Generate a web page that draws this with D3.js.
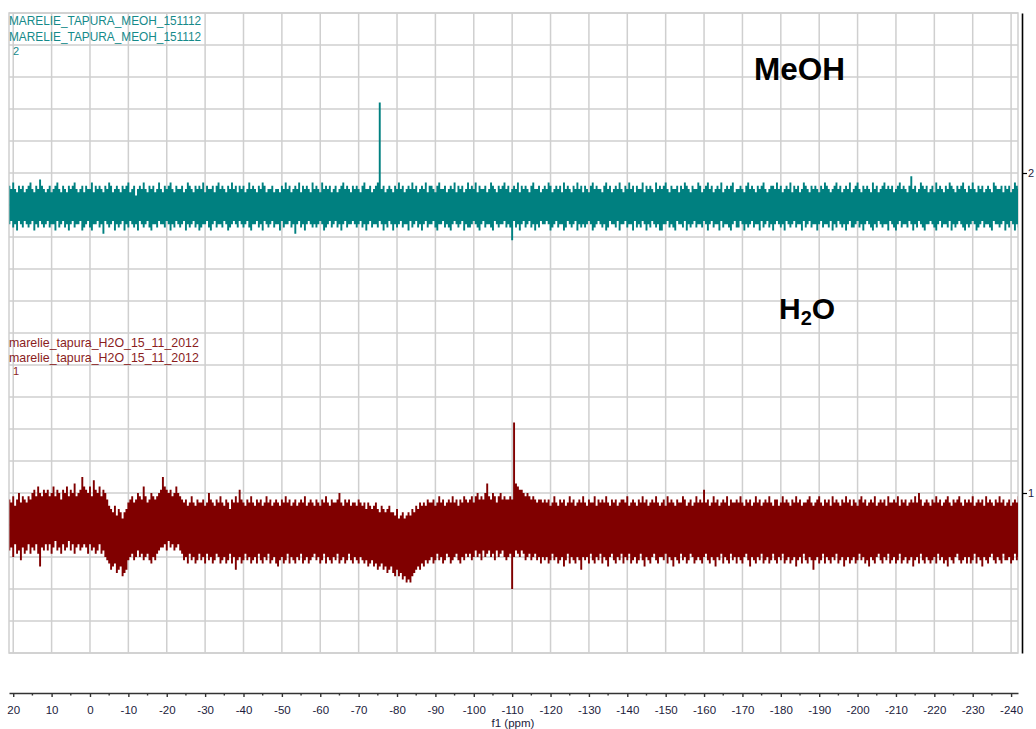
<!DOCTYPE html>
<html>
<head>
<meta charset="utf-8">
<script src="https://cdn.jsdelivr.net/npm/d3@7"></script>
<style>
  html, body { margin: 0; padding: 0; background: #ffffff; overflow: hidden; }
  svg { display: block; font-family: "Liberation Sans", Arial, sans-serif; }
</style>
</head>
<body>
<script>
// ---------------- DATA ----------------
// min/max envelope of each spectrum, one bin every 0.5 ppm starting at 21 ppm
const ppmStart = 21;
const ppmStep = 0.5;

const spectrumNames = ["MeOH", "H2O"];
const spectrumOffsets = [2, 1];      // stacked positions (right axis)
const yTickValues = [1, 2];
const yTickLabels = ["1", "2"];

const xTickValues = d3.range(20, -241, -10);
const xMinorTicks = d3.range(25, -246, -10);

// MeOH (spectrum 2) — per-bin maximum
const meohHigh = [
-.04,-.05,-.03,-.05,-.06,-.04,-.05,-.04,-.06,-.05,-.04,-.03,-.05,-.06,-.04,-.05,-.02,-.04,-.05,-.06,
-.05,-.04,-.06,-.05,-.04,-.03,-.05,-.06,-.04,-.05,-.06,-.04,-.05,-.04,-.03,-.05,-.06,-.05,-.04,-.06,
-.04,-.05,-.05,-.03,-.06,-.04,-.05,-.04,-.05,-.06,-.04,-.05,-.03,-.04,-.06,-.05,-.04,-.05,-.06,-.04,
-.05,-.04,-.03,-.06,-.05,-.04,-.07,-.05,-.04,-.05,-.03,-.05,-.06,-.04,-.05,-.04,-.06,-.05,-.03,-.05,
-.06,-.04,-.05,-.04,-.03,-.05,-.06,-.04,-.05,-.05,-.04,-.06,-.05,-.03,-.04,-.05,-.06,-.04,-.05,-.04,
-.05,-.03,-.06,-.04,-.05,-.05,-.04,-.06,-.04,-.03,-.05,-.04,-.05,-.06,-.04,-.05,-.03,-.05,-.04,-.06,
-.04,-.05,-.04,-.06,-.05,-.03,-.05,-.04,-.05,-.06,-.04,-.05,-.03,-.04,-.06,-.05,-.05,-.04,-.06,-.05,
-.05,-.06,-.04,-.05,-.03,-.05,-.04,-.06,-.05,-.04,-.05,-.03,-.06,-.04,-.05,-.04,-.05,-.06,-.03,-.05,
-.04,-.05,-.06,-.03,-.05,-.04,-.05,-.04,-.06,-.05,-.04,-.06,-.05,-.04,-.03,-.05,-.04,-.05,-.06,-.04,
-.05,-.04,-.05,-.06,-.04,-.03,-.05,-.05,-.04,-.06,-.05,-.04,-.03,.22,-.05,-.04,-.06,-.05,-.04,-.05,
-.06,-.04,-.05,-.03,-.05,-.04,-.06,-.05,-.04,-.05,-.03,-.05,-.04,-.06,-.05,-.04,-.05,-.03,-.06,-.04,
-.04,-.05,-.06,-.04,-.03,-.05,-.05,-.04,-.06,-.05,-.04,-.05,-.03,-.06,-.04,-.05,-.04,-.06,-.05,-.03,
-.05,-.04,-.05,-.03,-.06,-.04,-.05,-.05,-.04,-.06,-.05,-.03,-.04,-.05,-.06,-.04,-.05,-.04,-.03,-.05,
-.04,-.06,-.05,-.04,-.05,-.03,-.06,-.04,-.05,-.04,-.05,-.06,-.04,-.03,-.05,-.05,-.04,-.06,-.05,-.04,
-.05,-.03,-.04,-.06,-.05,-.04,-.05,-.04,-.06,-.03,-.05,-.04,-.05,-.06,-.04,-.05,-.03,-.05,-.04,-.06,
-.04,-.05,-.06,-.04,-.03,-.05,-.04,-.05,-.05,-.06,-.04,-.03,-.05,-.04,-.06,-.05,-.04,-.05,-.03,-.05,
-.06,-.04,-.05,-.03,-.05,-.04,-.06,-.04,-.05,-.05,-.03,-.06,-.04,-.05,-.04,-.05,-.06,-.03,-.05,-.04,
-.05,-.04,-.03,-.05,-.06,-.04,-.05,-.05,-.04,-.06,-.04,-.05,-.03,-.04,-.05,-.06,-.04,-.05,-.05,-.03,
-.04,-.06,-.05,-.04,-.03,-.05,-.04,-.06,-.05,-.04,-.05,-.03,-.06,-.05,-.04,-.05,-.04,-.03,-.06,-.05,
-.05,-.04,-.05,-.06,-.04,-.03,-.05,-.04,-.05,-.06,-.04,-.05,-.04,-.03,-.05,-.06,-.05,-.04,-.04,-.05,
-.03,-.05,-.04,-.06,-.05,-.04,-.05,-.03,-.06,-.04,-.05,-.04,-.06,-.05,-.03,-.04,-.05,-.06,-.04,-.05,
-.04,-.05,-.06,-.04,-.05,-.03,-.04,-.05,-.06,-.05,-.04,-.03,-.05,-.04,-.06,-.05,-.04,-.05,-.03,-.06,
-.05,-.04,-.03,-.05,-.06,-.04,-.05,-.04,-.05,-.06,-.03,-.05,-.04,-.06,-.05,-.04,-.03,-.05,-.04,-.05,
-.04,-.06,-.05,-.04,-.03,-.05,-.04,-.05,-.06,-.04,-.01,-.05,-.04,-.06,-.05,-.03,-.04,-.05,-.04,-.06,
-.05,-.04,-.06,-.03,-.05,-.04,-.05,-.06,-.04,-.05,-.03,-.04,-.05,-.06,-.04,-.05,-.04,-.03,-.05,-.06,
-.04,-.05,-.03,-.05,-.06,-.04,-.05,-.04,-.06,-.05,-.04,-.05,-.06,-.03,-.04,-.05,-.05,-.04,-.06,-.04,
-.05,-.04,-.06,-.05,-.03,-.04,-.05
];
// MeOH — per-bin minimum
const meohLow = [
-.16,-.15,-.17,-.16,-.18,-.15,-.16,-.17,-.15,-.16,-.17,-.16,-.15,-.18,-.16,-.17,-.15,-.16,-.17,-.16,
-.15,-.17,-.16,-.16,-.18,-.15,-.17,-.16,-.15,-.17,-.16,-.18,-.16,-.15,-.17,-.16,-.16,-.15,-.18,-.17,
-.16,-.15,-.17,-.18,-.16,-.16,-.15,-.17,-.16,-.19,-.15,-.16,-.17,-.16,-.15,-.18,-.16,-.17,-.16,-.15,
-.18,-.16,-.17,-.15,-.16,-.17,-.16,-.18,-.15,-.16,-.17,-.16,-.15,-.17,-.18,-.16,-.16,-.17,-.15,-.16,
-.16,-.17,-.15,-.16,-.18,-.16,-.17,-.15,-.16,-.17,-.16,-.15,-.18,-.16,-.17,-.16,-.15,-.17,-.16,-.18,
-.17,-.16,-.16,-.15,-.17,-.18,-.16,-.15,-.17,-.16,-.16,-.17,-.15,-.16,-.18,-.17,-.16,-.15,-.16,-.17,
-.15,-.16,-.17,-.16,-.15,-.17,-.18,-.16,-.16,-.15,-.17,-.16,-.18,-.15,-.16,-.17,-.16,-.15,-.17,-.16,
-.16,-.18,-.15,-.17,-.16,-.16,-.15,-.17,-.16,-.19,-.16,-.15,-.17,-.16,-.18,-.16,-.15,-.16,-.17,-.16,
-.17,-.16,-.15,-.16,-.18,-.17,-.16,-.15,-.17,-.16,-.15,-.17,-.16,-.18,-.16,-.15,-.17,-.16,-.16,-.15,
-.16,-.17,-.16,-.15,-.17,-.16,-.18,-.16,-.15,-.17,-.16,-.16,-.17,-.15,-.16,-.18,-.16,-.17,-.15,-.16,
-.18,-.16,-.17,-.16,-.15,-.17,-.16,-.16,-.18,-.15,-.17,-.16,-.15,-.17,-.16,-.18,-.16,-.15,-.17,-.16,
-.16,-.15,-.17,-.18,-.16,-.16,-.15,-.17,-.16,-.17,-.18,-.16,-.15,-.16,-.17,-.16,-.15,-.18,-.16,-.17,
-.17,-.16,-.15,-.16,-.17,-.18,-.16,-.15,-.17,-.16,-.16,-.17,-.18,-.15,-.16,-.17,-.16,-.16,-.15,-.17,
-.16,-.17,-.21,-.15,-.17,-.16,-.18,-.16,-.15,-.17,-.16,-.15,-.17,-.16,-.18,-.16,-.17,-.15,-.16,-.16,
-.15,-.16,-.18,-.17,-.16,-.15,-.17,-.16,-.16,-.18,-.17,-.15,-.16,-.17,-.16,-.15,-.18,-.16,-.17,-.16,
-.17,-.16,-.15,-.16,-.18,-.17,-.16,-.15,-.16,-.17,-.16,-.18,-.17,-.15,-.16,-.16,-.17,-.15,-.18,-.16,
-.16,-.15,-.17,-.16,-.16,-.18,-.15,-.17,-.16,-.17,-.15,-.16,-.18,-.16,-.17,-.15,-.16,-.17,-.16,-.18,
-.18,-.16,-.16,-.15,-.17,-.16,-.17,-.18,-.15,-.16,-.16,-.17,-.15,-.18,-.16,-.17,-.16,-.15,-.17,-.16,
-.16,-.17,-.15,-.16,-.18,-.16,-.15,-.17,-.16,-.16,-.18,-.15,-.17,-.16,-.16,-.17,-.18,-.16,-.15,-.17,
-.17,-.15,-.16,-.18,-.16,-.17,-.16,-.15,-.17,-.16,-.16,-.18,-.15,-.17,-.16,-.15,-.17,-.16,-.18,-.16,
-.15,-.16,-.17,-.16,-.18,-.15,-.16,-.17,-.16,-.15,-.17,-.16,-.16,-.18,-.15,-.17,-.16,-.15,-.17,-.16,
-.16,-.18,-.16,-.15,-.17,-.16,-.16,-.17,-.15,-.18,-.16,-.17,-.15,-.16,-.17,-.16,-.18,-.16,-.15,-.17,
-.17,-.16,-.15,-.17,-.16,-.18,-.16,-.15,-.16,-.17,-.18,-.16,-.17,-.15,-.16,-.17,-.16,-.16,-.18,-.15,
-.16,-.17,-.18,-.16,-.15,-.17,-.16,-.16,-.17,-.15,-.16,-.18,-.16,-.17,-.15,-.16,-.17,-.18,-.16,-.16,
-.15,-.16,-.17,-.18,-.16,-.15,-.17,-.16,-.16,-.17,-.15,-.18,-.16,-.17,-.16,-.15,-.16,-.17,-.18,-.16,
-.17,-.16,-.15,-.16,-.18,-.17,-.16,-.15,-.17,-.16,-.16,-.17,-.18,-.15,-.16,-.16,-.17,-.16,-.15,-.18,
-.16,-.17,-.15,-.16,-.18,-.16,-.17
];

// H2O (spectrum 1) — per-bin maximum
const h2oHigh = [
-.02,-.03,-.01,-.04,-.02,0,-.03,-.01,-.02,-.03,-.01,-.02,0,.01,-.01,.02,0,-.01,.01,0,
.01,-.01,0,.02,-.01,.01,0,-.02,.01,0,.02,-.01,.01,0,.03,-.01,0,.01,.05,.02,
.01,0,.02,-.01,.04,.01,0,.02,-.01,.01,0,-.02,-.04,-.05,-.06,-.04,-.07,-.05,-.06,-.08,
-.06,-.05,-.03,-.02,-.01,-.03,-.02,0,-.01,-.02,.02,-.01,-.03,-.02,0,-.01,-.02,-.01,0,.01,
.05,.02,.01,0,.01,-.01,0,.02,0,-.01,-.02,-.03,-.02,-.04,-.03,-.01,-.03,-.04,-.02,-.03,
-.03,-.02,-.04,-.03,0,-.02,-.03,-.04,-.02,-.03,-.01,-.03,-.04,-.02,-.03,-.05,-.02,-.03,-.01,-.03,
.01,-.02,-.03,-.04,-.02,-.03,-.01,-.03,-.04,-.02,-.03,-.02,-.04,-.03,-.01,-.03,-.02,-.04,-.03,-.02,
-.03,-.04,-.02,-.03,-.01,-.03,-.02,-.04,-.03,-.02,-.04,-.03,-.02,-.03,-.01,-.04,-.03,-.02,-.03,-.04,
-.02,-.03,-.04,-.02,-.03,-.01,-.03,-.04,-.02,-.03,-.03,-.02,0,-.03,-.04,-.02,-.03,-.02,-.04,-.03,
-.03,-.04,-.02,-.03,-.04,-.03,-.05,-.03,-.04,-.05,-.04,-.03,-.05,-.06,-.04,-.05,-.06,-.05,-.04,-.06,
-.06,-.07,-.05,-.08,-.07,-.06,-.08,-.07,-.06,-.07,-.05,-.06,-.04,-.05,-.03,-.04,-.03,-.04,-.02,-.03,
-.03,-.02,-.04,-.03,-.01,-.03,-.02,-.04,-.03,-.02,-.03,-.01,-.03,-.02,-.04,-.02,-.03,-.01,-.02,-.03,
-.02,-.01,-.03,-.01,0,-.02,-.01,-.02,0,.03,-.01,-.02,0,-.01,-.03,-.01,0,-.02,-.01,-.02,
-.02,-.01,-.02,.22,.03,.02,.01,.01,0,-.01,0,-.01,-.02,-.01,-.02,-.03,-.02,-.02,-.03,-.02,
-.03,-.02,-.04,-.03,-.01,-.03,-.04,-.02,-.03,-.02,-.04,-.03,-.01,-.03,-.02,-.04,-.03,-.02,-.03,-.01,
-.03,-.04,-.02,-.03,-.03,-.01,-.04,-.02,-.03,-.02,-.03,-.01,-.03,-.04,-.02,-.03,-.02,-.04,-.03,-.02,
-.02,-.03,-.01,-.04,-.03,-.02,-.03,-.04,-.02,-.03,-.01,-.03,-.02,-.04,-.03,-.02,-.03,-.01,-.03,-.04,
-.03,-.02,-.04,-.01,-.03,-.02,-.03,-.04,-.02,-.03,-.03,-.01,-.02,-.04,-.03,-.02,-.04,-.03,-.01,-.03,
-.02,-.03,.01,-.03,-.02,-.04,-.03,-.01,-.03,-.02,-.04,-.03,-.02,-.03,-.01,-.04,-.02,-.03,-.03,-.02,
-.03,-.01,-.03,-.04,-.02,-.03,-.02,-.04,-.03,-.01,-.03,-.02,-.04,-.03,-.02,-.03,-.01,-.03,-.04,-.02,
-.02,-.04,-.03,-.01,-.03,-.02,-.03,-.04,-.02,-.03,-.01,-.03,-.02,-.04,-.03,-.03,-.02,-.01,-.03,-.04,
-.03,-.02,-.01,-.03,-.04,-.02,-.03,-.02,-.04,-.01,-.03,-.02,-.03,-.04,-.02,-.03,-.01,-.03,-.02,-.04,
-.02,-.03,-.04,-.02,-.01,-.03,-.02,-.04,-.03,-.02,-.03,-.01,-.04,-.03,-.02,-.03,-.02,-.04,-.01,-.03,
-.03,-.02,-.03,-.01,-.04,-.02,-.03,-.02,-.04,-.03,-.02,-.03,-.01,-.03,0,-.02,-.04,-.03,-.02,-.03,
-.04,-.02,-.03,-.01,-.03,-.02,-.04,-.03,-.02,-.01,-.03,-.04,-.02,-.03,-.02,-.01,-.03,-.04,-.02,-.03,
-.02,-.03,-.01,-.04,-.03,-.02,-.03,-.02,-.04,-.01,-.03,-.02,-.03,-.04,-.02,-.03,-.01,-.03,-.02,-.04,
-.03,-.02,-.04,-.03,-.02,-.03,-.01
];
// H2O — per-bin minimum
const h2oLow = [
-.18,-.17,-.20,-.16,-.19,-.18,-.21,-.17,-.19,-.18,-.16,-.19,-.17,-.18,-.16,-.19,-.23,-.17,-.18,-.16,
-.18,-.16,-.19,-.17,-.15,-.18,-.17,-.19,-.16,-.18,-.17,-.15,-.18,-.16,-.19,-.17,-.16,-.18,-.17,-.16,
-.17,-.19,-.16,-.18,-.17,-.19,-.18,-.16,-.19,-.18,-.20,-.21,-.22,-.24,-.23,-.22,-.25,-.24,-.23,-.26,
-.25,-.24,-.21,-.20,-.19,-.21,-.20,-.18,-.20,-.19,-.21,-.20,-.19,-.21,-.22,-.20,-.21,-.19,-.18,-.17,
-.17,-.16,-.18,-.15,-.17,-.16,-.18,-.17,-.16,-.18,-.19,-.21,-.20,-.22,-.19,-.21,-.20,-.22,-.21,-.19,
-.21,-.20,-.22,-.19,-.21,-.20,-.22,-.21,-.19,-.20,-.22,-.21,-.20,-.22,-.21,-.19,-.22,-.20,-.24,-.21,
-.20,-.22,-.21,-.19,-.21,-.20,-.22,-.21,-.20,-.22,-.19,-.21,-.22,-.20,-.21,-.19,-.22,-.21,-.20,-.22,
-.23,-.21,-.20,-.22,-.21,-.19,-.22,-.20,-.21,-.22,-.20,-.21,-.19,-.22,-.21,-.20,-.22,-.21,-.20,-.19,
-.21,-.20,-.22,-.21,-.19,-.22,-.20,-.21,-.22,-.20,-.21,-.19,-.22,-.21,-.20,-.22,-.21,-.19,-.21,-.22,
-.20,-.21,-.22,-.20,-.21,-.22,-.21,-.23,-.22,-.21,-.23,-.22,-.24,-.23,-.22,-.24,-.23,-.25,-.24,-.23,
-.25,-.26,-.24,-.26,-.25,-.27,-.26,-.28,-.27,-.28,-.26,-.25,-.24,-.23,-.24,-.22,-.23,-.21,-.22,-.21,
-.20,-.22,-.21,-.19,-.21,-.20,-.22,-.21,-.19,-.20,-.22,-.21,-.20,-.19,-.21,-.22,-.20,-.21,-.19,-.20,
-.19,-.21,-.20,-.18,-.20,-.19,-.21,-.18,-.20,-.19,-.18,-.20,-.19,-.21,-.18,-.20,-.19,-.18,-.20,-.21,
-.20,-.19,-.30,-.20,-.18,-.19,-.20,-.18,-.19,-.21,-.20,-.19,-.21,-.20,-.19,-.21,-.20,-.22,-.20,-.21,
-.20,-.22,-.21,-.19,-.21,-.20,-.22,-.21,-.20,-.23,-.21,-.19,-.22,-.20,-.21,-.22,-.20,-.21,-.24,-.20,
-.21,-.20,-.22,-.19,-.21,-.22,-.20,-.21,-.19,-.22,-.20,-.21,-.23,-.20,-.19,-.21,-.22,-.20,-.21,-.19,
-.22,-.20,-.21,-.19,-.22,-.21,-.20,-.22,-.21,-.19,-.21,-.23,-.20,-.21,-.22,-.20,-.19,-.21,-.22,-.20,
-.20,-.21,-.19,-.22,-.20,-.21,-.23,-.20,-.21,-.22,-.19,-.21,-.20,-.22,-.21,-.19,-.20,-.22,-.21,-.20,
-.21,-.22,-.20,-.19,-.21,-.22,-.20,-.21,-.23,-.20,-.21,-.19,-.22,-.20,-.21,-.22,-.19,-.21,-.20,-.22,
-.20,-.21,-.22,-.20,-.19,-.21,-.23,-.20,-.21,-.22,-.20,-.21,-.19,-.22,-.21,-.20,-.22,-.21,-.19,-.21,
-.22,-.20,-.21,-.19,-.22,-.21,-.20,-.22,-.21,-.20,-.23,-.21,-.20,-.22,-.19,-.21,-.22,-.20,-.21,-.24,
-.21,-.20,-.22,-.21,-.19,-.22,-.20,-.21,-.22,-.20,-.21,-.19,-.22,-.21,-.20,-.23,-.21,-.20,-.22,-.21,
-.20,-.22,-.21,-.19,-.21,-.20,-.22,-.21,-.23,-.20,-.21,-.22,-.20,-.19,-.21,-.22,-.20,-.21,-.19,-.22,
-.21,-.20,-.22,-.21,-.19,-.22,-.21,-.20,-.22,-.21,-.20,-.23,-.21,-.20,-.22,-.19,-.21,-.22,-.20,-.21,
-.22,-.21,-.20,-.22,-.19,-.21,-.20,-.22,-.21,-.23,-.20,-.21,-.22,-.20,-.19,-.21,-.22,-.21,-.20,-.22,
-.20,-.22,-.21,-.19,-.22,-.20,-.21,-.23,-.20,-.21,-.22,-.20,-.19,-.21,-.22,-.20,-.21,-.22,-.19,-.21,
-.21,-.20,-.22,-.21,-.19,-.21,-.20
];

const spectrumTitles = [
  ["MARELIE_TAPURA_MEOH_151112", "MARELIE_TAPURA_MEOH_151112", "2"],
  ["marelie_tapura_H2O_15_11_2012", "marelie_tapura_H2O_15_11_2012", "1"]
];
const spectrumColors = ["#008080", "#800000"];
const titleColors = ["#158a8a", "#8a1d1d"];

// ---------------- DRAWING ----------------
const W = 1036, H = 729;
const plotLeft = 9, plotRight = 1018, plotTop = 13, plotBottom = 653;

const x = d3.scaleLinear().domain([21.1, -241.8]).range([plotLeft, plotRight]);
const y = d3.scaleLinear().domain([0.5, 2.5]).range([plotBottom, plotTop]);

const svg = d3.select("body").append("svg").attr("width", W).attr("height", H);

svg.append("defs").append("clipPath").attr("id", "plotClip")
  .append("rect").attr("x", plotLeft).attr("y", plotTop)
  .attr("width", plotRight - plotLeft).attr("height", plotBottom - plotTop);

// grid
const grid = svg.append("g").attr("stroke", "#cfcfcf").attr("stroke-width", 1.5);
grid.selectAll("line.h").data(d3.range(0, 21).map(i => 0.5 + i * 0.1)).join("line")
  .attr("x1", plotLeft).attr("x2", plotRight)
  .attr("y1", d => y(d)).attr("y2", d => y(d));
grid.selectAll("line.v").data(xTickValues).join("line")
  .attr("x1", d => x(d)).attr("x2", d => x(d))
  .attr("y1", plotTop).attr("y2", plotBottom);
grid.append("rect").attr("x", plotLeft).attr("y", plotTop)
  .attr("width", plotRight - plotLeft).attr("height", plotBottom - plotTop)
  .attr("fill", "none");

// spectra: per-bin min/max columns (stepped band)
const plot = svg.append("g").attr("clip-path", "url(#plotClip)");
function drawSpectrum(offset, hi, lo, color) {
  const bins = hi.map((h, i) => ({ p: ppmStart - i * ppmStep, h: h, l: lo[i] }));
  const area = d3.area().curve(d3.curveStep)
    .x(d => x(d.p)).y0(d => y(offset + d.l)).y1(d => y(offset + d.h));
  plot.append("path").datum(bins).attr("d", area).attr("fill", color);
}
drawSpectrum(spectrumOffsets[0], meohHigh, meohLow, spectrumColors[0]);
drawSpectrum(spectrumOffsets[1], h2oHigh, h2oLow, spectrumColors[1]);

// spectrum titles
const titleBaselines = [[25, 41, 55], [347, 362, 375]];
const titleSizes = [11.85, 12.4];
spectrumTitles.forEach((lines, k) => {
  lines.forEach((txt, j) => {
    svg.append("text")
      .attr("x", j === 2 ? 13 : 9)
      .attr("y", titleBaselines[k][j])
      .attr("font-size", j === 2 ? 11 : titleSizes[k])
      .attr("fill", titleColors[k])
      .text(txt);
  });
});

// big labels
svg.append("text").attr("x", 754).attr("y", 80)
  .attr("font-size", 31.5).attr("font-weight", "bold").attr("fill", "#000")
  .text(spectrumNames[0]);
const h2oLabel = svg.append("text").attr("x", 779).attr("y", 319)
  .attr("font-size", 30).attr("font-weight", "bold").attr("fill", "#000");
h2oLabel.append("tspan").text("H");
h2oLabel.append("tspan").attr("font-size", 20).attr("dy", 6).text("2");
h2oLabel.append("tspan").attr("dy", -6).text("O");

// bottom axis
const xAxis = d3.axisBottom(x).tickValues(xTickValues).tickSize(4).tickSizeOuter(0)
  .tickFormat(d => String(d));
const gx = svg.append("g").attr("transform", `translate(0,693)`).call(xAxis);
gx.select(".domain").attr("stroke", "#333").attr("stroke-width", 1.6);
gx.selectAll(".tick line").attr("stroke", "#333").attr("stroke-width", 1.4);
gx.selectAll(".tick text").attr("y", 20.5).attr("dy", 0)
  .attr("font-size", 11.5).attr("fill", "#1c1c3c")
  .attr("font-family", "'Liberation Sans', Arial, sans-serif");
gx.selectAll("line.minor").data(xMinorTicks.filter(d => x(d) >= plotLeft && x(d) <= plotRight))
  .join("line").attr("class", "minor")
  .attr("x1", d => x(d)).attr("x2", d => x(d)).attr("y1", 0).attr("y2", 2.5)
  .attr("stroke", "#333").attr("stroke-width", 1.4);
svg.append("text").attr("x", 513).attr("y", 726.5).attr("text-anchor", "middle")
  .attr("font-size", 11.5).attr("fill", "#1c1c3c").text("f1 (ppm)");

// right axis
const yAxis = d3.axisRight(y).tickValues(yTickValues).tickSize(5).tickSizeOuter(0)
  .tickFormat((d, i) => yTickLabels[i]);
const gy = svg.append("g").attr("transform", `translate(1022,0)`).call(yAxis);
gy.select(".domain").attr("stroke", "#000").attr("stroke-width", 1.6);
gy.selectAll(".tick line").attr("stroke", "#000").attr("stroke-width", 1.2);
gy.selectAll(".tick text").attr("x", 6).attr("font-size", 11).attr("fill", "#1c1c3c")
  .attr("font-family", "'Liberation Sans', Arial, sans-serif");
</script>
</body>
</html>
